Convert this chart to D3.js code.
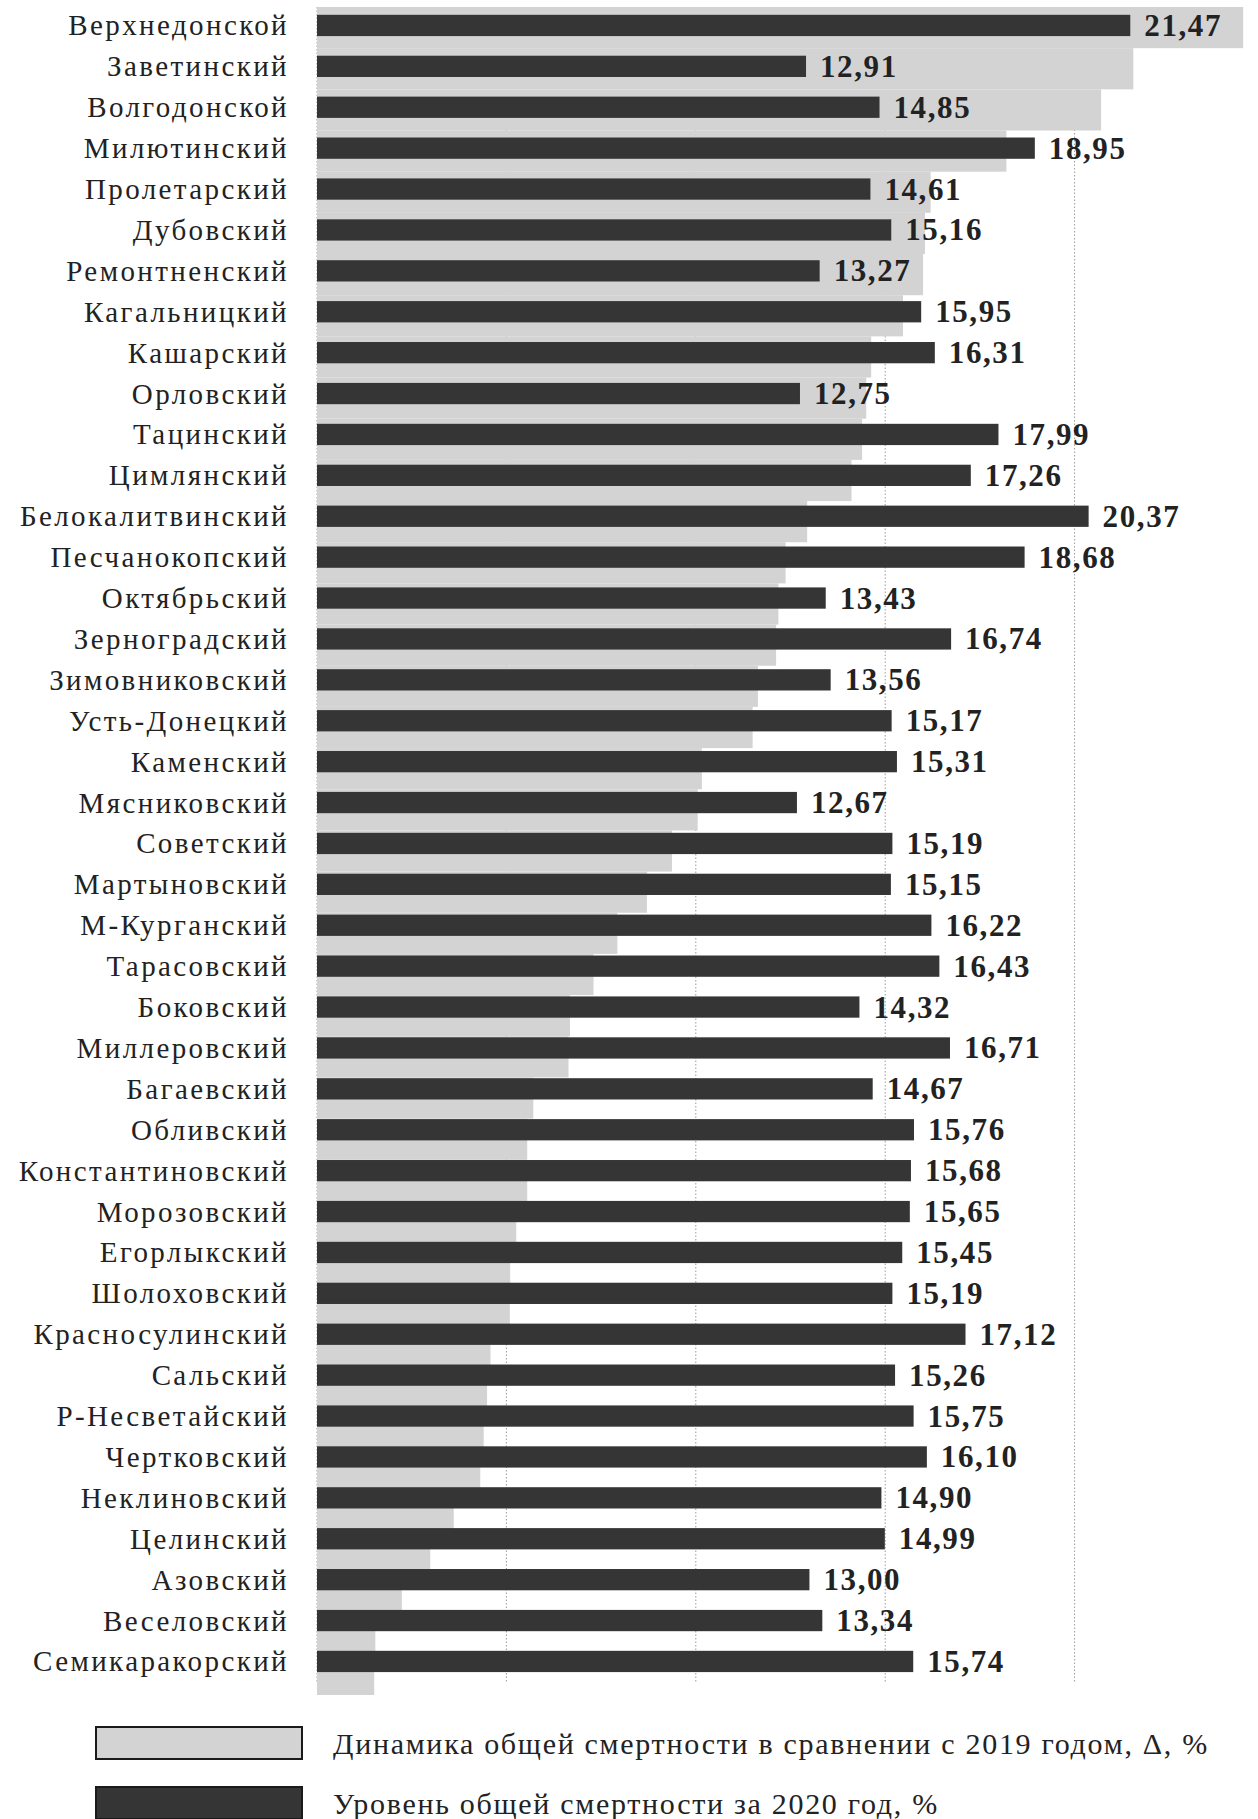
<!DOCTYPE html>
<html>
<head>
<meta charset="utf-8">
<script src="https://cdn.jsdelivr.net/npm/d3@7"></script>
<style>
  html, body { margin: 0; padding: 0; background: #fff; }
  svg { display: block; }
  text { font-family: "Liberation Serif", "Times New Roman", serif; }
</style>
</head>
<body>
<div id="chart"></div>
<script>
// ---- data ----
const categories = [
  "Верхнедонской", "Заветинский", "Волгодонской", "Милютинский", "Пролетарский",
  "Дубовский", "Ремонтненский", "Кагальницкий", "Кашарский", "Орловский",
  "Тацинский", "Цимлянский", "Белокалитвинский", "Песчанокопский", "Октябрьский",
  "Зерноградский", "Зимовниковский", "Усть-Донецкий", "Каменский", "Мясниковский",
  "Советский", "Мартыновский", "М-Курганский", "Тарасовский", "Боковский",
  "Миллеровский", "Багаевский", "Обливский", "Константиновский", "Морозовский",
  "Егорлыкский", "Шолоховский", "Красносулинский", "Сальский", "Р-Несветайский",
  "Чертковский", "Неклиновский", "Целинский", "Азовский", "Веселовский", "Семикаракорский"
];
// Уровень общей смертности за 2020 год, %
const level2020 = [
  21.47, 12.91, 14.85, 18.95, 14.61, 15.16, 13.27, 15.95, 16.31, 12.75,
  17.99, 17.26, 20.37, 18.68, 13.43, 16.74, 13.56, 15.17, 15.31, 12.67,
  15.19, 15.15, 16.22, 16.43, 14.32, 16.71, 14.67, 15.76, 15.68, 15.65,
  15.45, 15.19, 17.12, 15.26, 15.75, 16.10, 14.90, 14.99, 13.00, 13.34, 15.74
];
// Динамика общей смертности в сравнении с 2019 годом
const dynamics2019 = [
  24.45, 21.55, 20.7, 18.2, 16.2, 16.05, 16.0, 15.47, 14.63, 14.5,
  14.39, 14.11, 12.94, 12.37, 12.18, 12.12, 11.64, 11.5, 10.16, 10.05,
  9.37, 8.71, 7.93, 7.30, 6.68, 6.64, 5.71, 5.55, 5.55, 5.26,
  5.10, 5.09, 4.58, 4.49, 4.40, 4.31, 3.61, 2.99, 2.24, 1.54, 1.51
];
const xTicks = [0, 5, 10, 15, 20];
const legendLabels = [
  "Динамика общей смертности в сравнении с 2019 годом, Δ, %",
  "Уровень общей смертности за 2020 год, %"
];

// ---- layout ----
const W = 1258, H = 1819;
const LIGHT = "#d3d3d3", DARK = "#353535", TEXT = "#222";

const svg = d3.select("#chart").append("svg")
  .attr("width", W).attr("height", H)
  .attr("viewBox", `0 0 ${W} ${H}`);

svg.append("rect").attr("width", W).attr("height", H).attr("fill", "#fff");

const x = d3.scaleLinear().domain([0, 25]).range([317, 1264]);
const yDark = d3.scaleBand().domain(categories).range([5, 1681.9])
  .paddingInner(0.48).paddingOuter(0.24);
const yLight = d3.scaleBand().domain(categories).range([7, 1695]).padding(0);

// gridlines
svg.append("g").selectAll("line").data(xTicks).join("line")
  .attr("x1", d => x(d)).attr("x2", d => x(d))
  .attr("y1", 7).attr("y2", 1682)
  .attr("stroke", "#9a9a9a").attr("stroke-width", 1)
  .attr("stroke-dasharray", "1.5,2");

// light bars (dynamics)
svg.append("g").selectAll("rect").data(categories).join("rect")
  .attr("x", x(0))
  .attr("y", d => yLight(d))
  .attr("width", (d, i) => x(dynamics2019[i]) - x(0))
  .attr("height", yLight.bandwidth())
  .attr("fill", LIGHT);

// dark bars (2020 level)
svg.append("g").selectAll("rect").data(categories).join("rect")
  .attr("x", x(0))
  .attr("y", d => yDark(d))
  .attr("width", (d, i) => x(level2020[i]) - x(0))
  .attr("height", yDark.bandwidth())
  .attr("fill", DARK);

// value labels
const fmt = v => v.toFixed(2).replace(".", ",");
svg.append("g").selectAll("text").data(categories).join("text")
  .attr("x", (d, i) => x(level2020[i]) + 14)
  .attr("y", d => yDark(d) + yDark.bandwidth() / 2)
  .attr("dominant-baseline", "central")
  .attr("font-size", 31).attr("font-weight", "bold")
  .attr("letter-spacing", 1.6)
  .attr("fill", TEXT)
  .text((d, i) => fmt(level2020[i]));

// category labels
svg.append("g").selectAll("text").data(categories).join("text")
  .attr("x", 289)
  .attr("y", d => yDark(d) + yDark.bandwidth() / 2)
  .attr("dominant-baseline", "central")
  .attr("text-anchor", "end")
  .attr("font-size", 29)
  .attr("letter-spacing", 2.4)
  .attr("fill", TEXT)
  .text(d => d);

// legend
const legend = svg.append("g");
const legY = [1743, 1803];
const legFill = [LIGHT, DARK];
legend.selectAll("rect").data(legendLabels).join("rect")
  .attr("x", 96).attr("y", (d, i) => legY[i] - 16)
  .attr("width", 206).attr("height", 32)
  .attr("fill", (d, i) => legFill[i])
  .attr("stroke", "#1a1a1a").attr("stroke-width", 2);
legend.selectAll("text").data(legendLabels).join("text")
  .attr("x", 333).attr("y", (d, i) => legY[i])
  .attr("dominant-baseline", "central")
  .attr("font-size", 30)
  .attr("letter-spacing", 1.7)
  .attr("fill", TEXT)
  .text(d => d);
</script>
</body>
</html>
